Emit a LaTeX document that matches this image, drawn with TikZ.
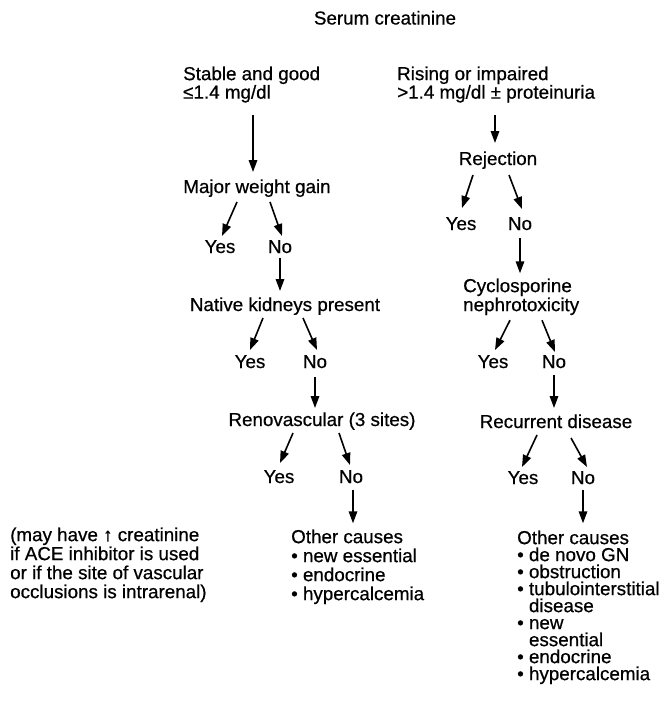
\documentclass[tikz,border=0pt]{standalone}
\usepackage{fontspec}
\setmainfont{Liberation Sans}[FakeBold=0.6]
\usetikzlibrary{arrows.meta}
\tikzset{
  lbl/.style={inner sep=0pt, anchor=base},
  blk/.style={inner sep=0pt, anchor=north west, align=left},
  arr/.style={line width=1.6pt, -{Triangle[length=12pt,width=8.5pt]}}
}
\begin{document}
\begin{tikzpicture}[x=1pt,y=-1pt,font=\fontsize{18.8}{19}\selectfont]
\useasboundingbox (0,0) rectangle (667,702);
\node[lbl] (title) at (385,24.5) {Serum creatinine};
\node[blk,font=\fontsize{18.8}{17}\selectfont] (stable) at (183,66.3) {Stable and good\\≤1.4 mg/dl};
\node[blk,font=\fontsize{18.8}{17}\selectfont] (rising) at (397,66.3) {Rising or impaired\\>1.4 mg/dl ± proteinuria};
% left branch
\node[lbl] (mwg) at (257,193) {Major weight gain};
\node[lbl] (yes1) at (220,253) {Yes};
\node[lbl] (no1) at (280,253) {No};
\node[lbl] (native) at (285,311) {Native kidneys present};
\node[lbl] (yes5) at (250,368) {Yes};
\node[lbl] (no5) at (315,368) {No};
\node[lbl] (reno) at (322,426) {Renovascular (3 sites)};
\node[lbl] (yes6) at (279,483) {Yes};
\node[lbl] (no6) at (351,483) {No};
\node[blk] (other1) at (291,529.3) {Other causes\\• new essential\\• endocrine\\• hypercalcemia};
\node[blk] (note) at (10,527.3) {(may have ↑ creatinine\\if ACE inhibitor is used\\or if the site of vascular\\occlusions is intrarenal)};
% right branch
\node[lbl] (rej) at (498,165) {Rejection};
\node[lbl] (yes2) at (461,230) {Yes};
\node[lbl] (no2) at (520,230) {No};
\node[blk] (cyclo) at (463,278.3) {Cyclosporine\\nephrotoxicity};
\node[lbl] (yes3) at (493,368) {Yes};
\node[lbl] (no3) at (554,368) {No};
\node[lbl] (rec) at (556,428) {Recurrent disease};
\node[lbl] (yes4) at (523,484) {Yes};
\node[lbl] (no4) at (583,484) {No};
\node[blk,font=\fontsize{18.8}{17}\selectfont] (other2) at (517,530.3) {Other causes\\• de novo GN\\• obstruction\\• tubulointerstitial\\\hphantom{•\ }disease\\• new\\\hphantom{•\ }essential\\• endocrine\\• hypercalcemia};
% connectors left
\draw[arr] ([shift={(70,12)}]stable.south west) -- ([shift={(-4,-21)}]mwg.base);
\draw[arr] ([shift={(-20,9)}]mwg.base) -- ([shift={(2,-17)}]yes1.base);
\draw[arr] ([shift={(13,9)}]mwg.base) -- ([shift={(2,-17)}]no1.base);
\draw[arr] ([shift={(0,5)}]no1.base) -- ([shift={(-5,-20)}]native.base);
\draw[arr] ([shift={(-22,7)}]native.base) -- ([shift={(0,-18)}]yes5.base);
\draw[arr] ([shift={(18,7)}]native.base) -- ([shift={(2,-18)}]no5.base);
\draw[arr] ([shift={(0,9)}]no5.base) -- ([shift={(-7,-18)}]reno.base);
\draw[arr] ([shift={(-29,7)}]reno.base) -- ([shift={(1,-20)}]yes6.base);
\draw[arr] ([shift={(17,7)}]reno.base) -- ([shift={(-1,-18)}]no6.base);
\draw[arr] ([shift={(2,7)}]no6.base) -- ([shift={(62,-6)}]other1.north west);
% connectors right
\draw[arr] ([shift={(98,12)}]rising.south west) -- ([shift={(-3,-22)}]rej.base);
\draw[arr] ([shift={(-25,10)}]rej.base) -- ([shift={(1,-22)}]yes2.base);
\draw[arr] ([shift={(11,10)}]rej.base) -- ([shift={(2,-21)}]no2.base);
\draw[arr] ([shift={(0,8)}]no2.base) -- ([shift={(57,-5)}]cyclo.north west);
\draw[arr] ([shift={(47,5)}]cyclo.south west) -- ([shift={(2,-18)}]yes3.base);
\draw[arr] ([shift={(79,5)}]cyclo.south west) -- ([shift={(1,-16)}]no3.base);
\draw[arr] ([shift={(0,7)}]no3.base) -- ([shift={(-2,-20)}]rec.base);
\draw[arr] ([shift={(-19,7)}]rec.base) -- ([shift={(-1,-17)}]yes4.base);
\draw[arr] ([shift={(15,10)}]rec.base) -- ([shift={(4,-17)}]no4.base);
\draw[arr] ([shift={(0,6)}]no4.base) -- ([shift={(66,-7)}]other2.north west);
\end{tikzpicture}
\end{document}
